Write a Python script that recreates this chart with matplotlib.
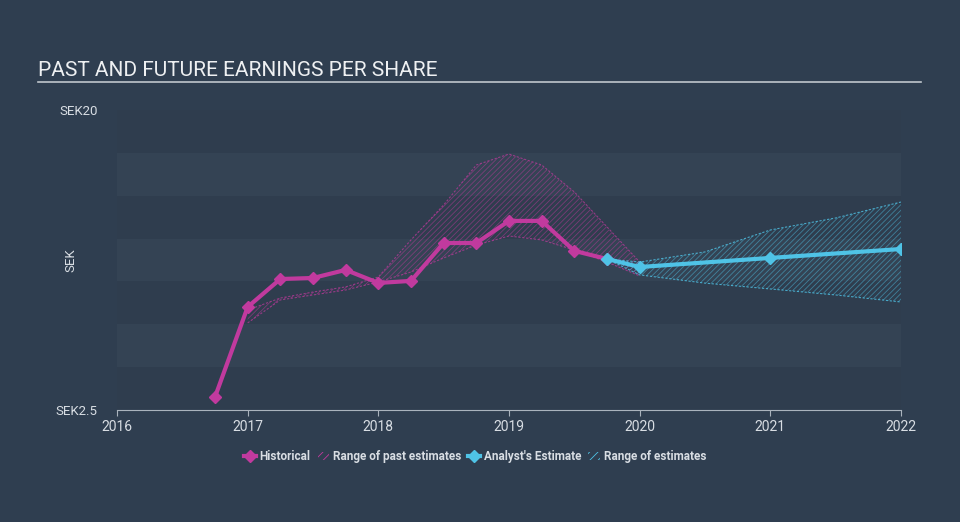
import numpy as np
import matplotlib.pyplot as plt
from matplotlib.lines import Line2D
from matplotlib.patches import Patch

# historical EPS
hist_x = [2016.75, 2017.0, 2017.25, 2017.5, 2017.75, 2018.0, 2018.25, 2018.5, 2018.75, 2019.0, 2019.25, 2019.5, 2019.75]
hist_y = [3.26, 8.51, 10.14, 10.2, 10.67, 9.91, 10.03, 12.24, 12.24, 13.53, 13.53, 11.78, 11.31]

# range of past estimates
past_x = [2017.0, 2017.25, 2017.5, 2017.75, 2018.0, 2018.25, 2018.5, 2018.75, 2019.0, 2019.25, 2019.5, 2019.75, 2020.0]
past_hi = [8.33, 9.03, 9.38, 9.68, 10.26, 12.42, 14.46, 16.79, 17.43, 16.79, 15.22, 13.18, 11.13]
past_lo = [7.58, 8.92, 9.21, 9.5, 9.97, 10.55, 11.37, 12.12, 12.65, 12.42, 11.83, 11.13, 10.32]

# analyst estimate
est_x = [2019.75, 2020.0, 2021.0, 2022.0]
est_y = [11.31, 10.84, 11.37, 11.89]

# range of estimates
rng_x = [2019.75, 2020.0, 2020.5, 2021.0, 2021.5, 2022.0]
rng_hi = [11.31, 11.13, 11.72, 13.0, 13.7, 14.63]
rng_lo = [11.31, 10.38, 9.9, 9.56, 9.21, 8.8]

years = [2016, 2017, 2018, 2019, 2020, 2021, 2022]

bg = '#2f3e50'
mag = '#c13a9e'
cyan = '#4fc3e6'
txt = '#d8dde3'

plt.rcParams['font.family'] = ['Roboto', 'DejaVu Sans']
plt.rcParams['hatch.linewidth'] = 0.6

fig = plt.figure(figsize=(9.6, 5.22), dpi=100, facecolor=bg)
ax = fig.add_axes([0.1219, 0.2146, 0.8166, 0.5747])
ax.set_facecolor(bg)

# alternating bands
for i, lo in enumerate(np.arange(2.5, 20, 2.5)):
    c = '#2f3d4e' if i % 2 == 0 else '#344354'
    ax.axhspan(lo, lo + 2.5, color=c, lw=0, zorder=0)

ax.fill_between(past_x, past_lo, past_hi, facecolor='none', edgecolor=mag,
                hatch='//////', lw=0, alpha=0.5, zorder=1)
ax.plot(past_x, past_hi, color=mag, lw=0.8, ls=(0, (2, 1.5)), alpha=0.7, zorder=1)
ax.plot(past_x, past_lo, color=mag, lw=0.8, ls=(0, (2, 1.5)), alpha=0.7, zorder=1)

ax.fill_between(rng_x, rng_lo, rng_hi, facecolor='none', edgecolor=cyan,
                hatch='//////', lw=0, alpha=0.5, zorder=1)
ax.plot(rng_x, rng_hi, color=cyan, lw=0.8, ls=(0, (2, 1.5)), alpha=0.8, zorder=1)
ax.plot(rng_x, rng_lo, color=cyan, lw=0.8, ls=(0, (2, 1.5)), alpha=0.8, zorder=1)

ax.plot(hist_x, hist_y, color=mag, lw=3, marker='D', markersize=6, zorder=3)
ax.plot(est_x, est_y, color=cyan, lw=3, marker='D', markersize=6, zorder=4)

ax.set_xlim(2016, 2022)
ax.set_ylim(2.5, 20)
ax.set_xticks(years)
ax.set_xticklabels([str(y) for y in years], color=txt, fontsize=10)
ax.set_yticks([2.5, 20])
ax.set_yticklabels(['SEK2.5', 'SEK20'], color=txt, fontsize=9.5)
ax.tick_params(axis='y', length=0, pad=14)
ax.tick_params(axis='x', length=4, color='#aab3bd', pad=3)
for s in ['top', 'right', 'left']:
    ax.spines[s].set_visible(False)
ax.spines['bottom'].set_color('#aab3bd')
ax.set_ylabel('SEK', color=txt, fontsize=9.5, labelpad=-16)

fig.text(0.04, 0.855, 'PAST AND FUTURE EARNINGS PER SHARE', color='#eef0f2', fontsize=15)
fig.add_artist(Line2D([0.04, 0.959], [0.843, 0.843], color='#c0c6cc', lw=1.2))

handles = [
    Line2D([], [], color=mag, lw=3, marker='D', markersize=6),
    Patch(facecolor='none', edgecolor=mag, hatch='////', lw=0),
    Line2D([], [], color=cyan, lw=3, marker='D', markersize=6),
    Patch(facecolor='none', edgecolor=cyan, hatch='////', lw=0),
]
labels = ['Historical', 'Range of past estimates', "Analyst's Estimate", 'Range of estimates']
leg = fig.legend(handles, labels, loc='center', bbox_to_anchor=(0.495, 0.125), ncol=4,
                 frameon=False, fontsize=8.5, labelcolor=txt, handlelength=1.0,
                 handletextpad=0.3, columnspacing=0.6)
for t in leg.get_texts():
    t.set_fontweight('bold')

fig.savefig('out.png', dpi=100, facecolor=bg)
